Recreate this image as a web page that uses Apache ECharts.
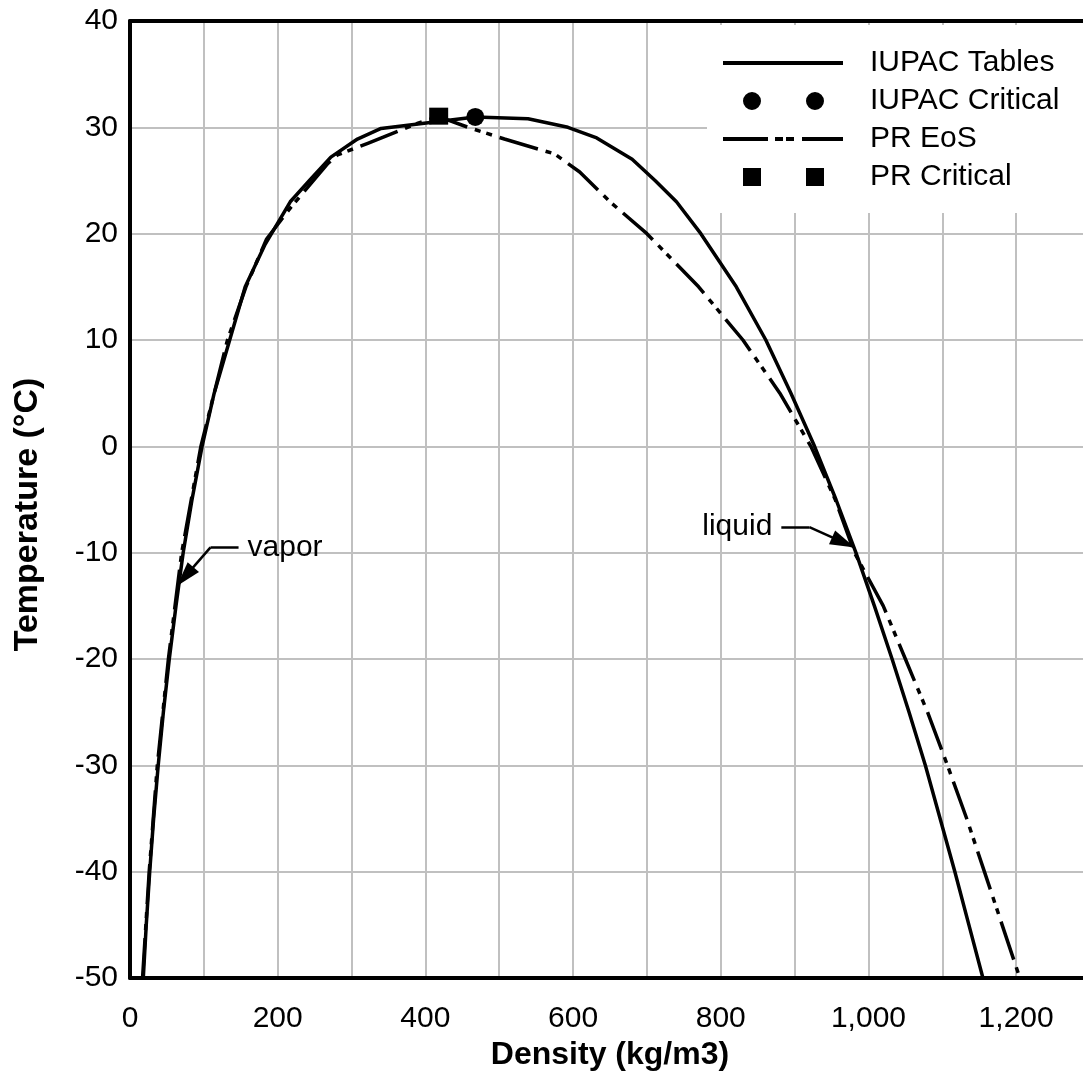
<!DOCTYPE html>
<html><head><meta charset="utf-8">
<script src="https://cdn.jsdelivr.net/npm/echarts@6/dist/echarts.min.js"></script>
<style>html,body{margin:0;padding:0;overflow:hidden;background:#fff}#c{width:1100px;height:1082px}</style>
</head><body><div id="c"></div>
<script>
// IUPAC saturation curve: [density kg/m3, temperature °C], vapor branch up, liquid branch down
const iupacTables = [
  [18,-50],[22,-45],[26.7,-40],[32,-35],[38.2,-30],[45.2,-25],[53.2,-20],[62.3,-15],[72,-10],[84,-5],
  [97.6,0],[114,5],[135,10],[156,15],[183,19],[217,23],[243,25],[272,27.2],[308,28.9],[340,29.9],
  [467.6,30.98],[539,30.8],[593,30],[632,29],[680,27],[711,25],[740,23],[773,20],[821,15],[861,10],
  [895,5],[927,0],[956,-5],[983,-10],[1008,-15],[1032,-20],[1055,-25],[1077,-30],[1097,-35],[1117,-40],
  [1136,-45],[1155,-50]
];
const iupacCritical = [[467.6,30.98]];
// Peng-Robinson EoS saturation curve
const prEos = [
  [17,-50],[26,-40],[37,-30],[52,-20],[70,-10],[96,0],[132,10],[157,15],[185,19.5],[218,22.5],
  [268,26.6],[281,27.4],[322,28.5],[390,30.4],[418,31.0],[458,30.0],[507,28.9],[575,27.5],[609,25.8],
  [650,23],[700,20],[770,15],[830,10],[880,5],[922,0],[955,-5],[981,-10],[1020,-15],[1050,-20],
  [1080,-25],[1107,-30],[1133,-35],[1157,-40],[1181,-45],[1205,-50]
];
const prCritical = [[418,31.05]];
// annotation leaders: label anchor, elbow, arrow tip
const vaporLeader = [[147,-9.5],[109,-9.5],[64,-13.1]];
const liquidLeader = [[882,-7.6],[920,-7.6],[981,-9.5]];
const annotationLabels = [
  {name:'vapor', value:[147,-9.5], pos:'right'},
  {name:'liquid', value:[882,-7.6], pos:'left'}
];
const seriesNames = ['IUPAC Tables','IUPAC Critical','PR EoS','PR Critical'];
const xRange = [0,1300], xStep = 100, xLabelStep = 200;
const yRange = [-50,40], yStep = 10;

const FONT = "'Liberation Sans', Arial, Helvetica, sans-serif";
const chart = echarts.init(document.getElementById('c'));
const B = 'M0 0 M142 20 ';
const icons = [
  'path://' + B + 'M0 8 L120 8 L120 12 L0 12 Z',
  'path://' + B + 'M20 10 A9 9 0 1 1 38 10 A9 9 0 1 1 20 10 Z M83 10 A9 9 0 1 1 101 10 A9 9 0 1 1 83 10 Z',
  'path://' + B + 'M0 8 L45 8 L45 12 L0 12 Z M52 8 L60 8 L60 12 L52 12 Z M63 8 L71 8 L71 12 L63 12 Z M79 8 L120 8 L120 12 L79 12 Z',
  'path://' + B + 'M20 1 L38 1 L38 19 L20 19 Z M83 1 L101 1 L101 19 L83 19 Z'
];
function leader(pts){
  return [
    [{coord:pts[0]},{coord:pts[1]}],
    [{coord:pts[1]},{coord:pts[2], symbol:'triangle', symbolSize:[15,25], symbolOffset:[0,12]}]
  ];
}
const solidBlack = {color:'#000', opacity:1};
chart.setOption({
  animation:false,
  backgroundColor:'#fff',
  textStyle:{fontFamily:FONT},
  grid:{left:130, top:21, width:960, height:957, show:false},
  legend:{
    left:707, top:25, orient:'vertical', selectedMode:false,
    padding:[23,40,21,16], backgroundColor:'#fff',
    itemWidth:142, itemHeight:20, itemGap:8,
    itemStyle:{opacity:1},
    textStyle:{fontSize:30, lineHeight:30, color:'#000', fontFamily:FONT},
    data:seriesNames.map((n,i)=>({name:n, icon:icons[i]}))
  },
  xAxis:[{
    type:'value', min:xRange[0], max:xRange[1], interval:xStep,
    name:'Density (kg/m3)', nameLocation:'middle', nameGap:47,
    nameTextStyle:{fontSize:32, fontWeight:'bold', color:'#000', fontFamily:FONT},
    axisLine:{show:true, onZero:false, lineStyle:{color:'#000', width:4}},
    axisTick:{show:false},
    axisLabel:{fontSize:30, color:'#000', margin:26, fontFamily:FONT,
      formatter:v=> (v % xLabelStep === 0 ? v.toLocaleString('en-US') : '')},
    splitLine:{show:true, lineStyle:{color:'#c0c0c0', width:2}}
  },{
    type:'value', position:'top', min:xRange[0], max:xRange[1], interval:xStep,
    axisLine:{show:true, onZero:false, lineStyle:{color:'#000', width:4}},
    axisTick:{show:false}, axisLabel:{show:false}, splitLine:{show:false}
  }],
  yAxis:{
    type:'value', min:yRange[0], max:yRange[1], interval:yStep,
    name:'Temperature (°C)', nameLocation:'middle', nameGap:85,
    nameTextStyle:{fontSize:34, fontWeight:'bold', color:'#000', fontFamily:FONT, padding:[0,30,0,0]},
    axisLine:{show:true, onZero:false, lineStyle:{color:'#000', width:4}},
    axisTick:{show:false},
    axisLabel:{fontSize:30, color:'#000', margin:12, fontFamily:FONT},
    splitLine:{show:true, lineStyle:{color:'#c0c0c0', width:2}}
  },
  series:[
    {name:seriesNames[0], type:'line', data:iupacTables, symbol:'none', color:'#000', z:3,
      itemStyle:solidBlack, lineStyle:{color:'#000', width:3.5, join:'round', opacity:1}},
    {name:seriesNames[1], type:'scatter', data:iupacCritical, symbol:'circle', symbolSize:18, color:'#000', z:5,
      itemStyle:solidBlack},
    {name:seriesNames[2], type:'line', data:prEos, symbol:'none', color:'#000', z:3,
      itemStyle:solidBlack, lineStyle:{color:'#000', width:3.5, type:[40,8,6,6,6,8], join:'round', opacity:1}},
    {name:seriesNames[3], type:'scatter', data:prCritical, symbol:'rect', symbolSize:[19,17], color:'#000', z:5,
      itemStyle:solidBlack},
    {name:'annotations', type:'scatter', symbolSize:0, z:6, silent:true, itemStyle:solidBlack,
      data:annotationLabels.map(a=>({name:a.name, value:a.value,
        label:{show:true, position:a.pos, distance:9, formatter:'{b}', fontSize:30, color:'#000', opacity:1, fontFamily:FONT}})),
      markLine:{silent:true, symbol:['none','none'], animation:false,
        label:{show:false},
        lineStyle:{color:'#000', width:2.5, type:'solid', opacity:1},
        data:leader(vaporLeader).concat(leader(liquidLeader))}
    }
  ]
});
</script></body></html>
